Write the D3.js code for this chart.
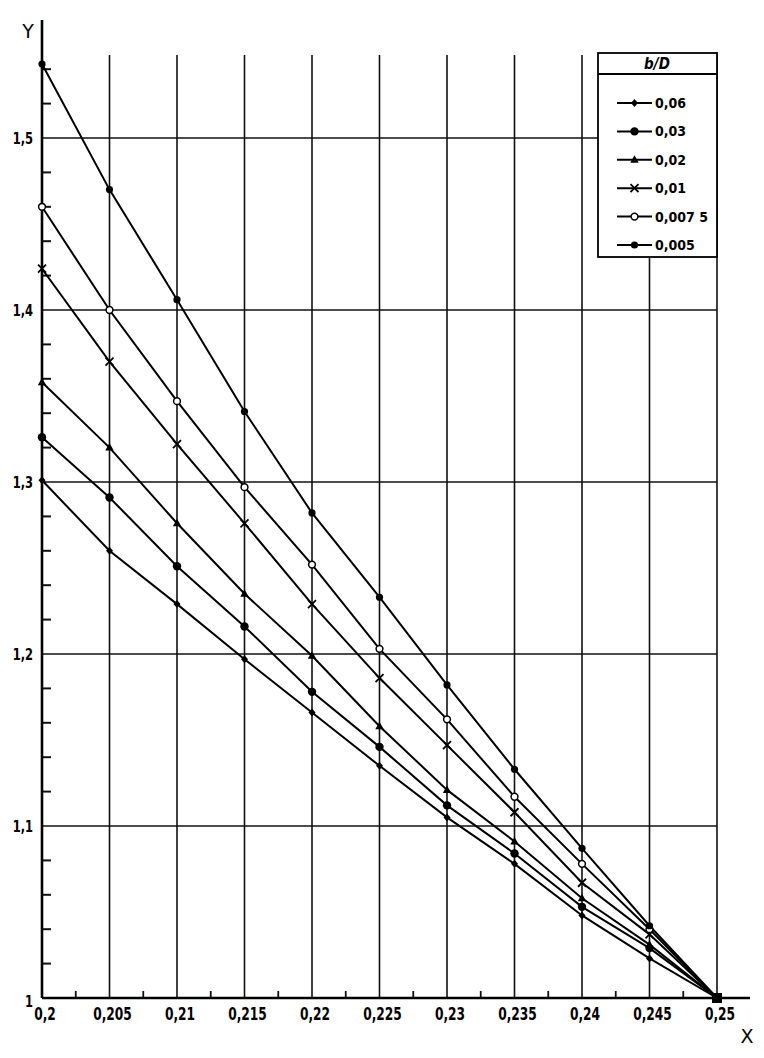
<!DOCTYPE html>
<html><head><meta charset="utf-8">
<script src="https://cdn.jsdelivr.net/npm/d3@7"></script>
<style>body{margin:0;background:#fff}svg{display:block}</style></head>
<body><svg id="c" width="764" height="1058"></svg>
<script>
const xValues = [0.2,0.205,0.21,0.215,0.22,0.225,0.23,0.235,0.24,0.245,0.25];
const xTickLabels = ["0,2","0,205","0,21","0,215","0,22","0,225","0,23","0,235","0,24","0,245","0,25"];
const yTicks = [1,1.1,1.2,1.3,1.4,1.5];
const yTickLabels = ["1","1,1","1,2","1,3","1,4","1,5"];
const yMinorTicks = [1.02,1.04,1.06,1.08,1.12,1.14,1.16,1.18,1.22,1.24,1.26,1.28,1.32,1.34,1.36,1.38,1.42,1.44,1.46,1.48,1.52,1.54];
const xMinorTicks = [0.2025,0.2075,0.2125,0.2175,0.2225,0.2275,0.2325,0.2375,0.2425,0.2475];
const seriesLabels = ["0,06","0,03","0,02","0,01","0,007 5","0,005"];
const seriesMarkers = ["diamond","bigdot","triangle","cross","opencircle","dot"];
const y006  = [1.301,1.260,1.229,1.197,1.166,1.135,1.105,1.078,1.048,1.023,1.0];
const y003  = [1.326,1.291,1.251,1.216,1.178,1.146,1.112,1.084,1.053,1.029,1.0];
const y002  = [1.358,1.320,1.276,1.235,1.199,1.158,1.121,1.091,1.058,1.031,1.0];
const y001  = [1.424,1.370,1.322,1.276,1.229,1.186,1.147,1.108,1.067,1.037,1.0];
const y0075 = [1.460,1.400,1.347,1.297,1.252,1.203,1.162,1.117,1.078,1.040,1.0];
const y0005 = [1.543,1.470,1.406,1.341,1.282,1.233,1.182,1.133,1.087,1.042,1.0];
const seriesValues = [y006,y003,y002,y001,y0075,y0005];

const svg = d3.select("#c");
const x = d3.scaleLinear().domain([0.2,0.25]).range([42,717]);
const y = d3.scaleLinear().domain([1,1.5]).range([998,138]);
const font = "'DejaVu Sans Condensed','DejaVu Sans',sans-serif";

// grid
const g = svg.append("g").attr("stroke","#111").attr("stroke-width",1.6);
xValues.slice(1).forEach(v=>{
  g.append("line").attr("x1",x(v)).attr("x2",x(v)).attr("y1",55).attr("y2",y(1));
});
yTicks.slice(1).forEach(v=>{
  g.append("line").attr("x1",x(0.2)).attr("x2",x(0.25)).attr("y1",y(v)).attr("y2",y(v));
});
yMinorTicks.forEach(v=>{
  g.append("line").attr("x1",x(0.2)).attr("x2",x(0.2)+9).attr("y1",y(v)).attr("y2",y(v)).attr("stroke-width",2);
});
xMinorTicks.forEach(v=>{
  g.append("line").attr("x1",x(v)).attr("x2",x(v)).attr("y1",y(1)).attr("y2",y(1)-7).attr("stroke-width",1.8);
});
// axes
svg.append("line").attr("x1",x(0.2)).attr("x2",750).attr("y1",y(1)).attr("y2",y(1)).attr("stroke","#000").attr("stroke-width",2.6);
svg.append("line").attr("x1",x(0.2)).attr("x2",x(0.2)).attr("y1",y(1)).attr("y2",20).attr("stroke","#000").attr("stroke-width",2.6);

// tick labels (tall, narrow lettering)
svg.append("g").selectAll("text").data(xValues).join("text")
  .attr("transform",d=>`translate(${x(d)+3},1020) scale(0.8,1)`).attr("text-anchor","middle")
  .attr("font-family",font).attr("font-weight","bold").attr("font-size",17)
  .text((d,i)=>xTickLabels[i]);
svg.append("g").selectAll("text").data(yTicks).join("text")
  .attr("transform",d=>`translate(33,${y(d)+(d===1?9:6)}) scale(0.8,1)`).attr("text-anchor","end")
  .attr("font-family",font).attr("font-weight","bold").attr("font-size",16)
  .text((d,i)=>yTickLabels[i]);
svg.append("text").attr("x",747).attr("y",1043).attr("text-anchor","middle")
  .attr("font-family","'DejaVu Sans',sans-serif").attr("font-size",19).text("X");
svg.append("text").attr("x",28).attr("y",38).attr("text-anchor","middle")
  .attr("font-family","'DejaVu Sans',sans-serif").attr("font-size",19).text("Y");

function marker(sel, type, cx, cy){
  const m = sel.append("g").attr("transform",`translate(${cx},${cy})`);
  if(type==="dot") m.append("circle").attr("r",3.6).attr("fill","#000");
  else if(type==="bigdot") m.append("circle").attr("r",4.2).attr("fill","#000");
  else if(type==="opencircle") m.append("circle").attr("r",3.4).attr("fill","#fff").attr("stroke","#000").attr("stroke-width",1.5);
  else if(type==="diamond") m.append("path").attr("d","M0,-4L3.5,0L0,4L-3.5,0Z").attr("fill","#000");
  else if(type==="triangle") m.append("path").attr("d","M0,-4.5L4.2,3L-4.2,3Z").attr("fill","#000");
  else if(type==="cross") m.append("path").attr("d","M-4,-4L4,4M-4,4L4,-4").attr("stroke","#000").attr("stroke-width",1.8);
}

// lines
const line = d3.line().x((d,i)=>x(xValues[i])).y(d=>y(d));
const lg = svg.append("g");
seriesValues.forEach((vals,k)=>{
  lg.append("path").datum(vals).attr("d",line).attr("fill","none").attr("stroke","#000").attr("stroke-width",2);
});
seriesValues.forEach((vals,k)=>{
  vals.forEach((v,i)=>{
    if(i<xValues.length-1) marker(lg, seriesMarkers[k], x(xValues[i]), y(v));
  });
});
lg.append("rect").attr("x",x(0.25)-5).attr("y",y(1)-5).attr("width",10).attr("height",10).attr("fill","#000");

// legend
const L = svg.append("g");
L.append("rect").attr("x",598).attr("y",53).attr("width",119).attr("height",204)
  .attr("fill","#fff").attr("stroke","#000").attr("stroke-width",1.8);
L.append("line").attr("x1",598).attr("x2",717).attr("y1",74).attr("y2",74).attr("stroke","#000").attr("stroke-width",1.8);
L.append("text").attr("x",657).attr("y",69).attr("text-anchor","middle")
  .attr("font-family",font).attr("font-weight","bold").attr("font-style","italic").attr("font-size",15).text("b/D");
seriesLabels.forEach((lab,k)=>{
  const ry = 103 + k*28.4;
  L.append("line").attr("x1",617).attr("x2",652).attr("y1",ry).attr("y2",ry).attr("stroke","#000").attr("stroke-width",2);
  marker(L, seriesMarkers[k], 634.5, ry);
  L.append("text").attr("x",655).attr("y",ry+5).attr("font-family",font).attr("font-weight","bold").attr("font-size",14).text(lab);
});
</script></body></html>
